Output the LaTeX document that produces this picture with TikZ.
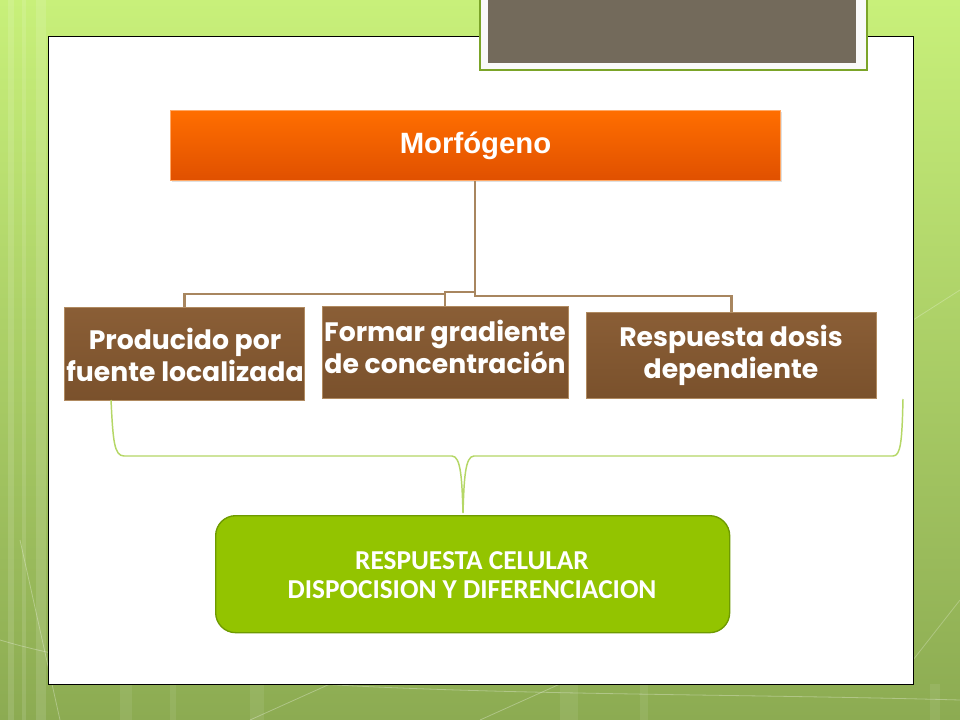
\documentclass[tikz,border=0pt]{standalone}
\usepackage{fontspec}
\setmainfont{Liberation Sans}
\newfontfamily\gothic{Poppins}
\newfontfamily\calib{Carlito}
\usetikzlibrary{shadows}
\definecolor{bgtop}{HTML}{C8F07A}
\definecolor{bgbot}{HTML}{8CAB52}
\definecolor{orangetop}{HTML}{FF6E00}
\definecolor{orangebot}{HTML}{E05000}
\definecolor{browntop}{HTML}{8A5E36}
\definecolor{brownbot}{HTML}{7A512C}
\definecolor{brownedge}{HTML}{B08A60}
\definecolor{connbrown}{HTML}{A8865F}
\definecolor{bracegreen}{HTML}{B5D766}
\definecolor{boxgreen}{HTML}{93C400}
\definecolor{boxgreenedge}{HTML}{6E9A00}
\definecolor{titlegray}{HTML}{736A5B}
\definecolor{titleedge}{HTML}{7BA428}
\tikzset{
  topbox/.style={draw=orangetop!60!white, line width=0.8pt, top color=orangetop, bottom color=orangebot,
    minimum width={610*0.75pt}, minimum height={70*0.75pt}, inner sep=0pt, anchor=north west},
  brownbox/.style={draw=brownedge, line width=0.8pt, top color=browntop, bottom color=brownbot,
    inner sep=0pt, anchor=north west},
  browntext/.style={text=white, font=\gothic\bfseries\fontsize{20}{24}\selectfont, align=center},
  conn/.style={draw=connbrown, line width=1.6pt},
  bracel/.style={draw=bracegreen, line width=1.1pt},
}
\begin{document}
\begin{tikzpicture}[x=0.75pt,y=-0.75pt]
\useasboundingbox (0,0) rectangle (960,720);
% background
\shade[top color=bgtop, bottom color=bgbot] (0,0) rectangle (960,720);
\foreach \xa/\w in {8/6,22/4,36/10}{\fill[white,opacity=0.12] (\xa,0) rectangle (\xa+\w,720);}
\foreach \xa/\w in {120/12,170/6,250/14,560/18,640/8,930/10}{\fill[white,opacity=0.08] (\xa,684) rectangle (\xa+\w,720);}
\draw[white,opacity=0.3,line width=0.6pt] (0,640) .. controls (200,700) and (600,690) .. (960,700);
\draw[white,opacity=0.3,line width=0.6pt] (20,540) -- (60,720);
\draw[white,opacity=0.3,line width=0.6pt] (250,720) -- (330,684);
\draw[white,opacity=0.3,line width=0.6pt] (480,720) -- (560,684);
\draw[white,opacity=0.25,line width=0.6pt] (913,320) -- (960,290);
\draw[white,opacity=0.25,line width=0.6pt] (913,660) -- (960,600);
% white panel
\node[draw=black, line width=0.8pt, fill=white, minimum width={865*0.75pt}, minimum height={648*0.75pt}, inner sep=0pt, anchor=north west] (panel) at (48,36) {};
% title placeholder
\node[draw=titleedge, line width=1.5pt, fill=white!95!gray, minimum width={387*0.75pt}, minimum height={72*0.75pt}, inner sep=0pt, anchor=south west] (titleframe) at (479,71) {};
\node[fill=titlegray, minimum width={368*0.75pt}, minimum height={63*0.75pt}, inner sep=0pt, anchor=south west] (titlebox) at (488,63) {};
% top box
\node[topbox, drop shadow={opacity=0.25,shadow xshift=1pt,shadow yshift=-1pt}] (morf) at (170,110) {};
\node[text=white, font=\bfseries\fontsize{22}{26}\selectfont] (morft) at (morf.center) {Morfógeno};
% brown boxes
\node[brownbox, minimum width={240*0.75pt}, minimum height={93*0.75pt}] (b1) at (64,307) {};
\node[brownbox, minimum width={246*0.75pt}, minimum height={92*0.75pt}] (b2) at (322,306) {};
\node[brownbox, minimum width={290*0.75pt}, minimum height={86*0.75pt}] (b3) at (586,312) {};
\node[browntext] (t1) at (185,355) {Producido por\\fuente localizada};
\node[browntext] (t2) at (445,347) {Formar gradiente\\de concentración};
\node[browntext] (t3) at (731,355) {Respuesta dosis\\dependiente};
% connectors
\coordinate (s1) at (475,296);
\coordinate (s2) at (475,292);
\coordinate (m1) at (445,292);
\coordinate (m2) at (445,294);
\draw[conn] (morf.south -| s1) -- (s1) -| (b3.north);
\draw[conn] (s2) -- (m1) -- (m1 |- b2.north);
\draw[conn] (m2) -| (b1.north);
% bottom box
\node[draw=boxgreenedge, line width=1pt, fill=boxgreen, rounded corners=15pt, minimum width={514*0.75pt}, minimum height={117*0.75pt}, inner sep=0pt, anchor=north west] (resp) at (215,515) {};
\node[text=white, font=\calib\bfseries\fontsize{20.5}{21.5}\selectfont, align=center] (respt) at (472,575) {RESPUESTA CELULAR\\DISPOCISION Y DIFERENCIACION};
% brace
\coordinate (la) at (111,400);
\coordinate (ra) at (903,399);
\coordinate (tip) at (463,513);
\draw[bracel] (la) .. controls (113,440) and (114,456) .. (124,456) -- (452,456)
  .. controls (461,456) and (462,480) .. (tip)
  .. controls (464,480) and (465,456) .. (474,456) -- (893,456)
  .. controls (901,456) and (902,440) .. (ra);
\end{tikzpicture}
\end{document}
